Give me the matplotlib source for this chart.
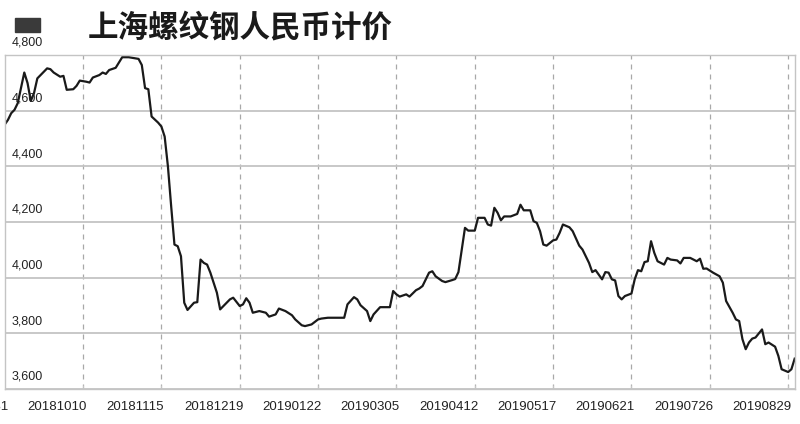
import matplotlib
matplotlib.use("Agg")
import matplotlib.pyplot as plt
import matplotlib.transforms as mtransforms
from matplotlib.patches import Rectangle
from matplotlib import font_manager

# trading-day index and Shanghai rebar price (CNY)
days = [0, 1, 2, 3, 4, 6, 7, 8, 9, 10, 11, 13, 14, 15, 17, 18, 19, 21, 22, 23,
        25, 26, 27, 29, 30, 31, 32, 34, 36, 38, 41, 42, 43, 44, 45, 47, 48, 49, 50, 51,
        52, 53, 54, 55, 56, 58, 59, 60, 61, 62, 63, 65, 66, 67, 69, 70, 72, 73, 74, 75,
        76, 78, 80, 81, 83, 84, 86, 88, 89, 91, 92, 94, 96, 97, 99, 100, 103, 104, 105, 107,
        108, 109, 111, 112, 113, 115, 118, 119, 120, 121, 122, 123, 124, 126, 127, 128, 130, 131, 132, 134,
        135, 137, 138, 139, 140, 141, 142, 144, 145, 147, 148, 149, 150, 151, 152, 153, 155, 157, 158, 159,
        161, 162, 163, 164, 165, 166, 168, 169, 170, 171, 173, 174, 176, 177, 179, 180, 181, 183, 184, 185,
        186, 187, 188, 189, 190, 192, 193, 194, 195, 196, 197, 198, 199, 200, 202, 203, 204, 206, 207, 208,
        210, 212, 213, 214, 215, 217, 219, 220, 221, 223, 224, 225, 226, 227, 228, 229, 230, 232, 233, 234,
        236, 237, 238, 240, 241, 242]
price = [4550, 4567, 4591, 4603, 4627, 4737, 4699, 4635, 4664, 4716, 4728, 4752, 4749, 4737, 4722, 4725, 4675, 4677, 4689, 4708,
         4704, 4701, 4719, 4728, 4737, 4732, 4746, 4754, 4792, 4792, 4786, 4764, 4681, 4677, 4579, 4557, 4543, 4507, 4400, 4256,
         4119, 4113, 4077, 3910, 3884, 3910, 3912, 4065, 4053, 4047, 4018, 3946, 3886, 3898, 3922, 3928, 3898, 3904, 3926, 3910,
         3874, 3880, 3874, 3860, 3868, 3889, 3880, 3865, 3850, 3829, 3826, 3832, 3850, 3853, 3856, 3856, 3856, 3856, 3904, 3930,
         3922, 3901, 3880, 3844, 3868, 3894, 3894, 3952, 3940, 3932, 3936, 3940, 3932, 3955, 3961, 3970, 4018, 4023, 4005, 3988,
         3984, 3991, 3995, 4020, 4100, 4179, 4169, 4169, 4215, 4215, 4191, 4187, 4251, 4233, 4206, 4220, 4220, 4229, 4262, 4242,
         4242, 4203, 4197, 4167, 4119, 4115, 4134, 4137, 4161, 4191, 4181, 4167, 4115, 4101, 4053, 4020, 4027, 3994, 4020, 4018,
         3994, 3990, 3934, 3922, 3934, 3943, 3994, 4027, 4023, 4056, 4059, 4131, 4089, 4059, 4047, 4071, 4065, 4062, 4051, 4071,
         4071, 4059, 4068, 4032, 4033, 4018, 4005, 3982, 3916, 3874, 3850, 3844, 3779, 3743, 3767, 3781, 3785, 3814, 3761, 3767,
         3752, 3719, 3671, 3661, 3671, 3709]

date_labels = ["20180831", "20181010", "20181115", "20181219", "20190122", "20190305",
               "20190412", "20190517", "20190621", "20190726", "20190829"]
label_days = [-8, 16, 40, 64, 88, 112, 136, 160, 184, 208, 232]
grid_days = [24, 48, 72, 96, 120, 144, 168, 192, 216, 240]
y_ticks = [3600, 3800, 4000, 4200, 4400, 4600, 4800]

title = "上海螺纹钢人民币计价"

names = {f.name for f in font_manager.fontManager.ttflist}
num_font = "Liberation Sans" if "Liberation Sans" in names else "DejaVu Sans"
date_font = "Liberation Sans Narrow" if "Liberation Sans Narrow" in names else num_font

fig = plt.figure(figsize=(8, 4.24), dpi=100)
ax = fig.add_axes([4.7 / 800, 1 - 389 / 424, (795 - 4.7) / 800, (389 - 55) / 424])

ax.plot(days, price, color="#1a1a1a", lw=1.6, solid_joinstyle="round")

ax.set_xlim(0, 242.1)
ax.set_ylim(3600, 4800)

# horizontal solid grid, vertical dashed grid
ax.set_yticks(y_ticks)
ax.set_yticklabels([])
ax.set_xticks(grid_days)
ax.set_xticklabels([])
ax.grid(axis="y", color="#c4c4c4", lw=1.3, ls="-")
ax.grid(axis="x", color="#a8a8a8", lw=0.9, ls=(0, (4, 4)))
ax.tick_params(axis="y", length=0)
ax.tick_params(axis="x", length=3, direction="in", color="#c4c4c4")
ax.set_axisbelow(True)
for s in ax.spines.values():
    s.set_color("#c4c4c4")
    s.set_linewidth(1.0)

# y labels sit just above their gridline, inside the plot
trans = mtransforms.blended_transform_factory(ax.transAxes, ax.transData)
trans = mtransforms.offset_copy(trans, fig=fig, x=7, y=6, units="dots")
for v in y_ticks:
    ax.text(0, v, f"{v:,}", transform=trans, ha="left", va="bottom",
            fontsize=9, family=num_font, color="#222222", clip_on=False)

# date labels under the axis
xtrans = mtransforms.blended_transform_factory(ax.transData, ax.transAxes)
xtrans = mtransforms.offset_copy(xtrans, fig=fig, x=0, y=-12, units="dots")
for d, lab in zip(label_days, date_labels):
    ax.text(d, 0, lab, transform=xtrans, ha="center", va="top",
            fontsize=9.5, family=date_font, color="#222222", clip_on=False)

# legend swatch and title
fig.patches.append(Rectangle((15 / 800, 1 - 32 / 424), 25 / 800, 14 / 424,
                             transform=fig.transFigure, color="#3a3a3a"))
fig.text(88 / 800, 1 - 27 / 424, title, ha="left", va="center", fontsize=22,
         fontweight="bold", family=["Noto Sans CJK SC", "DejaVu Sans"], color="#1a1a1a")

fig.savefig("out.png", dpi=100)
